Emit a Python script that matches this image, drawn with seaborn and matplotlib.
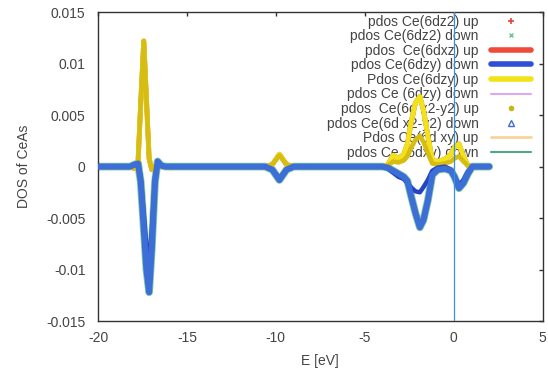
import matplotlib
matplotlib.use("Agg")
import matplotlib.pyplot as plt
from matplotlib.lines import Line2D
import seaborn as sns

# energy grid (eV) and Ce 6d partial DOS
energy = [-20.0, -18.2, -17.95, -17.75, -17.6, -17.43, -17.28, -17.13, -16.98, -16.8, -16.65, -16.45, -16.2,
          -10.6, -10.2, -9.8, -9.4, -9.0,
          -4.0, -3.7, -3.4, -3.1, -2.8, -2.6, -2.4, -2.15, -1.9, -1.7, -1.45, -1.2, -0.9, -0.5, -0.15,
          0.05, 0.3, 0.55, 0.8, 1.05, 1.4, 2.0]

dos_up_t2g = [0, 0, -0.0002, 0.0005, 0.0062, 0.0122, 0.0065, 0.0008, -0.0003, 0.0, 0.0002, 0.0, 0,
              0, 0.0002, 0.0012, 0.0002, 0,
              0, 0.0002, 0.0011, 0.0008, 0.0012, 0.0022, 0.0042, 0.0062, 0.0068, 0.0055, 0.0030, 0.0006, 0.0005,
              0.0007, 0.0012, 0.0019, 0.0022, 0.0010, 0.0001, 0, 0, 0]

dos_up_eg = [0, 0, -0.0002, 0.0005, 0.0062, 0.0122, 0.0065, 0.0008, -0.0003, 0.0, 0.0002, 0.0, 0,
             0, 0.0002, 0.0011, 0.0002, 0,
             0, 0.0001, 0.0005, 0.0004, 0.0006, 0.0010, 0.0018, 0.0026, 0.0030, 0.0024, 0.0013, 0.0003, 0.0002,
             0.0003, 0.0005, 0.0008, 0.0010, 0.0005, 0.0001, 0, 0, 0]

dos_dn_eg = [0, 0, 0.0002, 0.0003, -0.0015, -0.0060, -0.0100, -0.0122, -0.0080, -0.0015, 0.0005, 0.0001, 0,
             0, -0.0003, -0.0013, -0.0003, 0,
             0, -0.0001, -0.0004, -0.0007, -0.0010, -0.0014, -0.0028, -0.0045, -0.0059, -0.0052, -0.0033, -0.0008,
             -0.0003, -0.0002, -0.0004, -0.0010, -0.0021, -0.0016, -0.0007, 0, 0, 0]

dos_dn_t2g = [0, 0, 0.0002, 0.0003, -0.0010, -0.0045, -0.0078, -0.0092, -0.0062, -0.0010, 0.0004, 0.0001, 0,
              0, -0.0003, -0.0011, -0.0003, 0,
              0, -0.0002, -0.0006, -0.0010, -0.0012, -0.0016, -0.0020, -0.0024, -0.0025, -0.0020, -0.0013, -0.0004,
              -0.0001, 0.0, -0.0003, -0.0009, -0.0018, -0.0013, -0.0005, 0, 0, 0]

labels = ["pdos Ce(6dz2) up", "pdos Ce(6dz2) down", "pdos  Ce(6dxz) up", "pdos Ce(6dzy) down",
          "Pdos Ce(6dzy) up", "pdos Ce (6dzy) down", "pdos  Ce(6d x2-y2) up", "pdos Ce(6d x2-y2) down",
          "Pdos Ce(6d xy) up", "pdos Ce (6dxy) down"]

x_ticks = [-20, -15, -10, -5, 0, 5]
y_ticks = [-0.015, -0.01, -0.005, 0, 0.005, 0.01, 0.015]
y_tick_labels = ["-0.015", "-0.01", "-0.005", "0", "0.005", "0.01", "0.015"]

sns.set_style("white")
plt.rcParams['font.family'] = ['Liberation Sans', 'DejaVu Sans']
plt.rcParams['axes.unicode_minus'] = False
txt = '#444444'

fig = plt.figure(figsize=(5.48, 3.69), dpi=100)
ax = fig.add_axes([0.179, 0.130, 0.811, 0.837])

# (data, colour, width, zorder) -- points series drawn as dense bands like the original
series = [
    (dos_up_t2g, '#e8413a', 3.0, 2.0),   # dz2 up (+)
    (dos_dn_eg, '#86cfa4', 5.6, 2.1),    # dz2 down (x)
    (dos_up_t2g, '#f04a3a', 3.5, 2.2),   # dxz up
    (dos_dn_t2g, '#2444c4', 3.2, 2.6),   # dzy down
    (dos_up_t2g, '#f2e21a', 3.6, 2.4),   # dzy up
    (dos_dn_t2g, '#e0a8f0', 1.5, 2.5),   # dzy down (violet)
    (dos_up_eg, '#d6bd12', 3.3, 2.5),    # x2-y2 up (dots)
    (dos_dn_eg, '#3d6dd6', 4.4, 2.7),    # x2-y2 down (triangles)
    (dos_up_t2g, '#f8d49a', 2.0, 1.8),   # xy up
    (dos_dn_t2g, '#4fa884', 1.5, 1.8),   # xy down
]
for vals, col, lw, z in series:
    sns.lineplot(x=energy, y=vals, ax=ax, color=col, linewidth=lw, zorder=z,
                 estimator=None, sort=False)

ax.axvline(0, color='#3a8ee0', linewidth=0.9, zorder=4)

ax.set_xlim(-20, 5)
ax.set_ylim(-0.015, 0.015)
ax.set_xticks(x_ticks)
ax.set_xticklabels([str(t) for t in x_ticks])
ax.set_yticks(y_ticks)
ax.set_yticklabels(y_tick_labels)
ax.tick_params(direction='in', length=3, width=1, colors='#333333', labelcolor=txt,
               labelsize=10, top=True, right=True)
ax.tick_params(axis='y', pad=9)
ax.tick_params(axis='x', pad=7)
for sp in ax.spines.values():
    sp.set_color('#333333')
    sp.set_linewidth(1.0)

ax.set_xlabel('E [eV]', fontsize=10, color=txt, labelpad=7)
ax.set_ylabel('DOS of CeAs', fontsize=10, color=txt, labelpad=11)

handles = [
    Line2D([], [], ls='none', marker='+', color='#e8413a', ms=4, mew=1.2),
    Line2D([], [], ls='none', marker='x', color='#6cc48e', ms=3.5, mew=1.0),
    Line2D([], [], color='#f04a3a', lw=4),
    Line2D([], [], color='#2f4fd6', lw=4),
    Line2D([], [], color='#f2e21a', lw=4),
    Line2D([], [], color='#e0a8f0', lw=1.5),
    Line2D([], [], ls='none', marker='o', color='#c8b414', ms=3),
    Line2D([], [], ls='none', marker='^', mfc='none', mec='#3d6dd6', ms=4, mew=1.0),
    Line2D([], [], color='#f8d49a', lw=2),
    Line2D([], [], color='#4fa884', lw=1.5),
]
leg = ax.legend(handles, labels, loc='upper right', bbox_to_anchor=(0.975, 0.992),
                frameon=False, markerfirst=False, fontsize=10, handlelength=2.9,
                handletextpad=0.9, labelspacing=0.04, borderaxespad=0, borderpad=0,
                labelcolor=txt)
leg.set_zorder(1)

fig.savefig('out.png', dpi=100)
